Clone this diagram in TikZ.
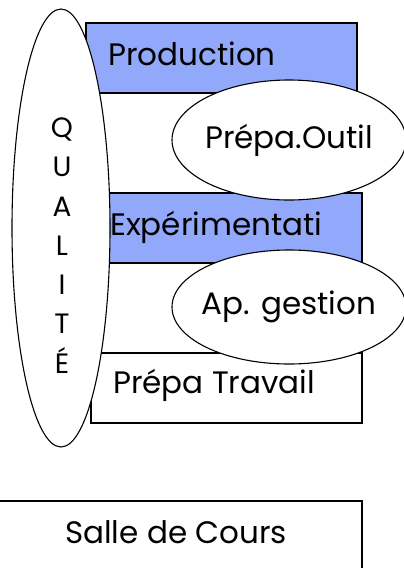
\documentclass[tikz,border=0pt]{standalone}
\usepackage{fontspec}
\setmainfont{Poppins}
\usetikzlibrary{shapes.geometric}

\definecolor{bandblue}{RGB}{146,168,250}
\tikzset{
  bloc/.style={draw, line width=1.1pt},
  bulle/.style={ellipse, draw, fill=white, line width=1.1pt, inner sep=0pt},
  libelle/.style={font=\fontsize{31}{37}\selectfont, inner sep=0pt},
}

\begin{document}
\begin{tikzpicture}[x=1pt,y=-1pt]
                \useasboundingbox (0,0) rectangle (404,568);
                \clip (0,0) rectangle (404,568);

                % bandes de l'atelier
                \filldraw[bloc, fill=bandblue] (86,23) rectangle (357,93);
                \filldraw[bloc, fill=bandblue] (88,193) rectangle (362,263);
                \draw[bloc] (91,353) rectangle (362,423);
                \node[libelle, anchor=base west] (production) at (108,65) {Production};
                \node[libelle, anchor=base west] (experim) at (110,235) {Expérimentati};
                \node[libelle, anchor=base west] (prepatravail) at (113,393) {Prépa Travail};

                % postes en ellipse
                \node[bulle, minimum width=234, minimum height=120] (prepaoutil) at (289,140) {};
                \node[libelle] (outil) at (prepaoutil) {Prépa.Outil};
                \node[bulle, minimum width=234, minimum height=114] (apgestion) at (289,307) {};
                \node[libelle] (gestion) at (apgestion) {Ap. gestion};

                % qualite sur toute la hauteur
                \node[bulle, minimum width=98, minimum height=438] (qualite) at (61,228) {};
                \node[inner sep=0pt, align=center, font=\fontsize{28}{39.3}\selectfont] (lettres) at (62,245.5) {Q\\U\\A\\L\\I\\T\\É};

                % salle de cours
                \draw[bloc, line width=1.6pt] (-5,501) rectangle (362,580);
                \node[libelle, anchor=base west] (salle) at (65,543) {Salle de Cours};
            \end{tikzpicture}
\end{document}
